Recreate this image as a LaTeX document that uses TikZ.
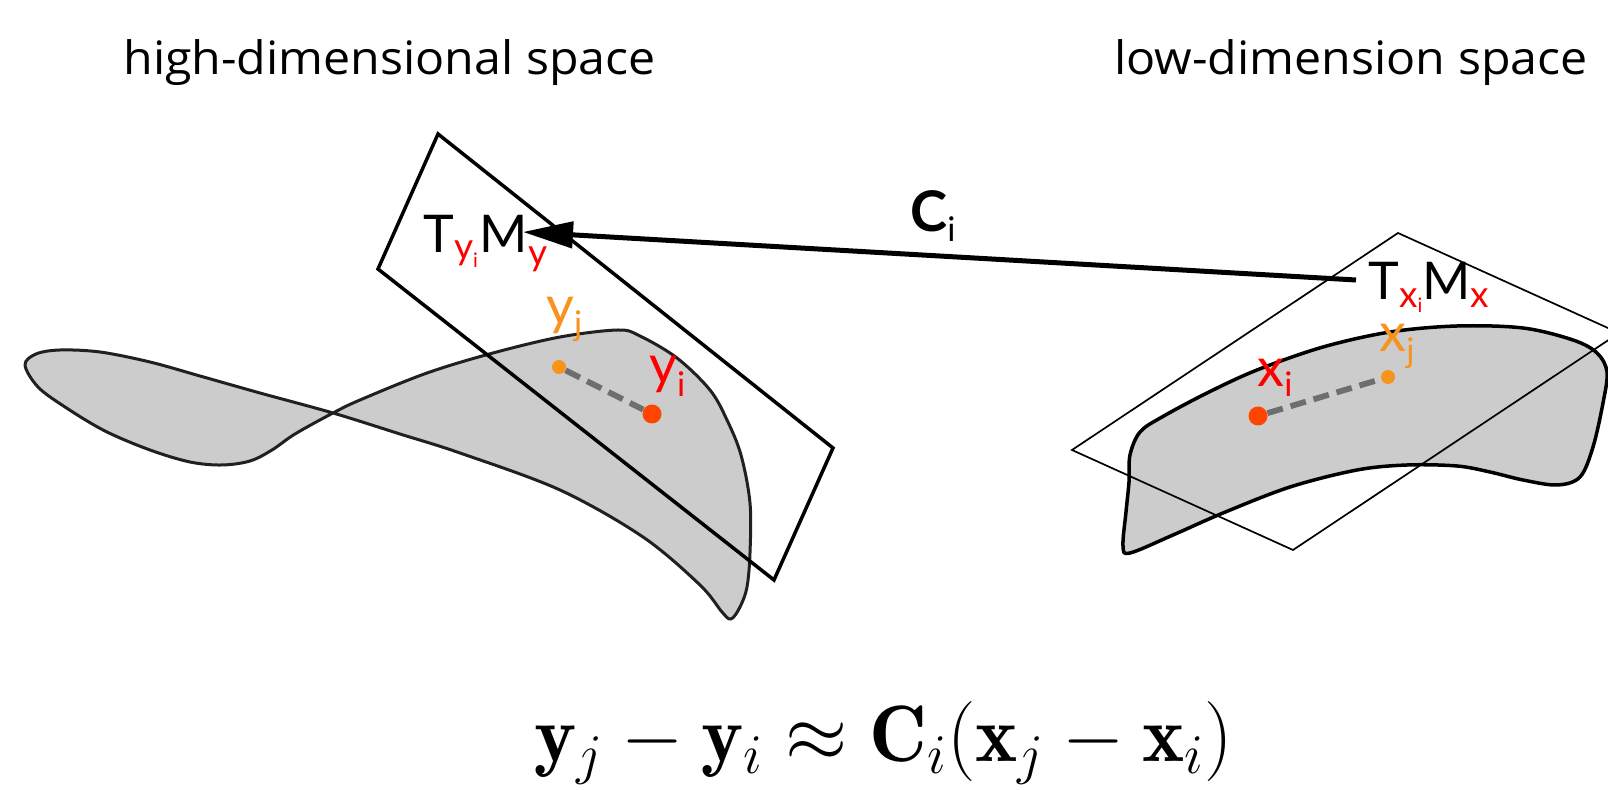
\RequirePackage{fix-cm}
\documentclass[tikz,border=0pt]{standalone}
\usepackage{graphicx}
\usepackage{fontspec}
\usetikzlibrary{arrows.meta}
\newfontfamily\labfont{Lato}
\newfontfamily\titfont{Open Sans}
\definecolor{lblred}{HTML}{FF0000}
\definecolor{lblorange}{HTML}{F7931E}
\definecolor{dotred}{HTML}{FF4500}
\definecolor{dotorange}{HTML}{F7941D}
\definecolor{shapefill}{HTML}{CCCCCC}
\definecolor{shapeline}{HTML}{231F20}
\definecolor{dashgray}{HTML}{6D6E70}
\newcommand{\subsz}{\fontsize{18.5}{18.5}\selectfont}
\newcommand{\ssubsz}{\fontsize{10}{10}\selectfont}
\newcommand{\ptsz}{\fontsize{17}{17}\selectfont}
\begin{document}
\begin{tikzpicture}[x=0.5pt,y=-0.5pt,
 manifold/.style={fill=shapefill, draw=shapeline, line width=1.5pt, line join=round},
 planeA/.style={draw=black, line width=1.75pt, line join=miter},
 planeB/.style={draw=black, line width=0.85pt, line join=miter},
 title/.style={anchor=base west, inner sep=0, font=\titfont\fontsize{23}{23}\selectfont},
 tlabel/.style={anchor=base west, inner sep=0, font=\labfont\fontsize{26}{26}\selectfont},
 plabel/.style={anchor=base west, inner sep=0, font=\labfont\fontsize{27}{27}\selectfont},
 bigdot/.style={circle, fill=dotred, inner sep=0, minimum size=9.5pt},
 smalldot/.style={circle, fill=dotorange, inner sep=0, minimum size=7pt},
 link/.style={draw=dashgray, line width=2.9pt, dash pattern=on 8pt off 4pt},
 mapping/.style={line width=2.5pt, -{Triangle[length=25pt,width=13pt]}}
]
\useasboundingbox (0,0) rectangle (1608,790);
\clip (0,0) rectangle (1608,790);

% titles
\node[title] (hi) at (123,75) {\scalebox{1.05}[1]{high-dimensional space}};
\node[title] (lo) at (1114,75) {\scalebox{1.05}[1]{low-dimension space}};

% left manifold
\draw[manifold] plot[smooth cycle, tension=0.55] coordinates {
 (25,365) (36,354) (60,350) (100,352) (150,362) (200,376) (260,393) (333,413)
 (400,434) (460,453) (560,490) (643,537) (700,585) (722,612) (731,619) (740,607)
 (747,587) (750,553) (750,503) (741,455) (727,420) (710,390) (677,358) (640,336)
 (618,330) (560,337) (493,353) (427,373) (360,400) (333,413) (295,434) (272,450)
 (250,461) (222,465) (190,462) (150,450) (105,431) (65,407) (38,387)};
% left tangent plane
\draw[planeA] (438,134) -- (833,448) -- (774,580) -- (378,269) -- cycle;

% right manifold
\draw[manifold, draw=black, line width=1.75pt] plot[smooth cycle, tension=0.55] coordinates {
 (1140,432) (1162,417) (1207,393) (1257,370) (1323,347) (1390,332) (1457,326)
 (1523,328) (1573,340) (1597,353) (1607,372) (1603,403) (1593,447) (1580,477)
 (1557,485) (1523,480) (1490,472) (1457,466) (1407,465) (1357,470) (1290,487)
 (1223,513) (1173,535) (1130,553) (1123,546) (1126,512) (1129,482) (1130,455)};
% right tangent plane
\draw[planeB] (1398,233) -- (1619,333) -- (1293,550) -- (1072,450) -- cycle;

% tangent space labels
\node[tlabel] (Ty) at (423,253) {T\raisebox{-3.5pt}{\subsz\color{lblred}y\raisebox{-4pt}{\ssubsz i}}\kern1pt M\raisebox{-6.5pt}{\subsz\color{lblred}y}};
\node[tlabel] (Tx) at (1368,300) {T\raisebox{-4pt}{\subsz\color{lblred}x\raisebox{-2.5pt}{\ssubsz i}}M\raisebox{-4pt}{\subsz\color{lblred}x}};

% mapping arrow
\coordinate (tailX) at ([xshift=-6pt, yshift=10pt]Tx.base west);
\coordinate (tipY) at ([xshift=50pt, yshift=10.5pt]Ty.base west);
\draw[mapping] (tailX) -- (tipY);
\node[anchor=base west, inner sep=0, font=\labfont] (Ci) at (910,232) {{\fontsize{28}{28}\selectfont\bfseries C}\raisebox{-5pt}{\fontsize{17}{17}\selectfont i}};

% points in high-dimensional space
\node[smalldot] (yj) at (559,367) {};
\node[bigdot] (yi) at (652,414) {};
\draw[link] (yj) -- (yi);
\node[plabel, text=lblorange] (yjl) at (546,325) {y\raisebox{-5.5pt}{\ptsz j}};
\node[plabel, text=lblred] (yil) at (649,384) {y\raisebox{-6.5pt}{\ptsz i}};

% points in low-dimensional space
\node[bigdot] (xi) at (1258,416) {};
\node[smalldot] (xj) at (1388,377) {};
\draw[link] (xi) -- (xj);
\node[plabel, text=lblred] (xil) at (1257,387) {x\raisebox{-5pt}{\ptsz i}};
\node[plabel, text=lblorange] (xjl) at (1379,352) {x\raisebox{-5.5pt}{\ptsz j}};

% equation
\node[anchor=base west, inner sep=0] (eq) at (534,762) {\fontsize{40}{42}\selectfont$\mathbf{y}_j-\mathbf{y}_i\approx\mathbf{C}_i(\mathbf{x}_j-\mathbf{x}_i)$};
\end{tikzpicture}
\end{document}
